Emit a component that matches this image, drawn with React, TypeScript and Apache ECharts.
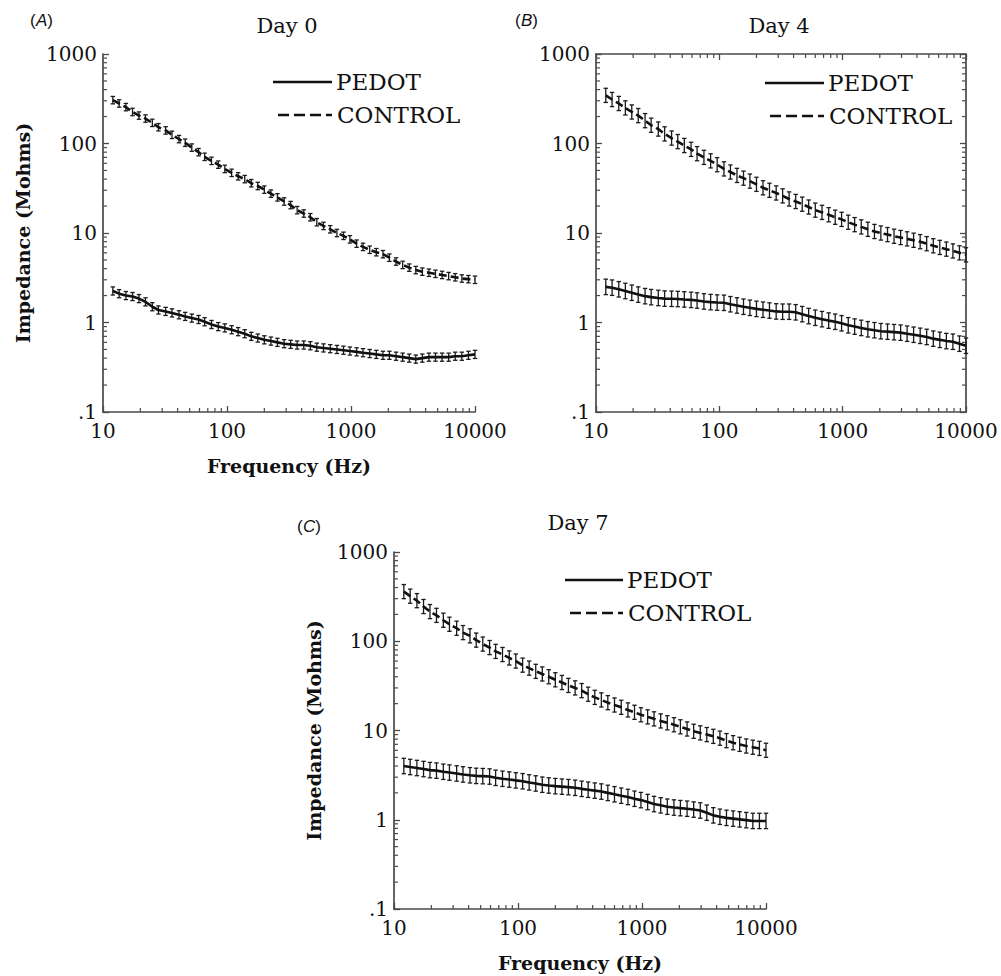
import React, { useEffect, useRef } from 'react';
import * as echarts from 'echarts';

// Frequencies (Hz)
const freq = [12, 13.5, 15.3, 17.3, 19.5, 22, 25, 28, 32, 36, 41, 46, 52, 59, 66, 75, 85, 96, 109, 123, 139, 157, 177, 200, 226, 255, 289, 326, 368, 416, 470, 530, 600, 680, 770, 870, 980, 1110, 1250, 1415, 1600, 1810, 2040, 2310, 2610, 2950, 3330, 3760, 4250, 4800, 5430, 6130, 6930, 7830, 8850, 10000];

// Impedance (Mohms)
const day0Control = [305, 280, 255, 225, 205, 190, 170, 152, 140, 125, 112, 102, 90, 80, 71, 64, 58, 52, 47, 43, 40, 36, 33.5, 30.5, 27.5, 25, 22.5, 20.5, 18, 16.5, 15, 13.2, 12, 11, 10, 9.3, 8.5, 7.6, 7.0, 6.5, 6.1, 5.8, 5.3, 4.8, 4.4, 4.1, 3.85, 3.7, 3.6, 3.5, 3.4, 3.3, 3.2, 3.1, 3.05, 3.0];
const day0Pedot = [2.25, 2.1, 2.0, 1.95, 1.85, 1.7, 1.5, 1.38, 1.33, 1.28, 1.22, 1.17, 1.12, 1.08, 1.02, 0.95, 0.9, 0.87, 0.83, 0.79, 0.75, 0.70, 0.67, 0.64, 0.62, 0.60, 0.58, 0.57, 0.56, 0.56, 0.55, 0.53, 0.52, 0.51, 0.50, 0.49, 0.48, 0.47, 0.46, 0.45, 0.44, 0.43, 0.43, 0.42, 0.41, 0.40, 0.39, 0.40, 0.41, 0.41, 0.41, 0.41, 0.42, 0.42, 0.43, 0.44];
const day4Control = [345, 310, 280, 250, 225, 205, 180, 160, 145, 128, 115, 105, 95, 86, 77, 70, 64, 58, 52, 48, 44, 41, 38, 35, 32, 30, 28, 26, 24, 22.5, 21, 19.5, 18, 17, 16, 15, 14.2, 13.2, 12.4, 11.7, 11, 10.4, 10, 9.6, 9.2, 8.9, 8.6, 8.3, 8.0, 7.6, 7.2, 6.9, 6.6, 6.3, 6.0, 5.7];
const day4Pedot = [2.5, 2.45, 2.35, 2.25, 2.15, 2.05, 1.97, 1.92, 1.88, 1.85, 1.84, 1.83, 1.81, 1.79, 1.76, 1.72, 1.69, 1.67, 1.66, 1.60, 1.55, 1.50, 1.46, 1.42, 1.39, 1.36, 1.33, 1.32, 1.32, 1.30, 1.24, 1.18, 1.13, 1.09, 1.05, 1.02, 0.98, 0.93, 0.90, 0.87, 0.84, 0.82, 0.80, 0.79, 0.78, 0.77, 0.75, 0.73, 0.71, 0.69, 0.66, 0.64, 0.62, 0.61, 0.58, 0.55];
const day7Control = [360, 320, 285, 245, 215, 195, 172, 155, 140, 125, 115, 103, 93, 85, 77, 71, 65, 60, 54, 50, 46, 43, 40, 37, 34.5, 32, 30, 28, 25.5, 23.5, 22, 20.5, 19.3, 18.2, 17, 16, 15, 14.2, 13.5, 12.8, 12.2, 11.6, 11, 10.4, 9.8, 9.4, 9.0, 8.6, 8.2, 7.7, 7.3, 7.0, 6.7, 6.5, 6.3, 6.0];
const day7Pedot = [4.0, 3.9, 3.8, 3.7, 3.6, 3.55, 3.45, 3.38, 3.3, 3.22, 3.15, 3.1, 3.08, 3.05, 2.95, 2.88, 2.82, 2.76, 2.7, 2.62, 2.55, 2.47, 2.42, 2.38, 2.35, 2.32, 2.28, 2.22, 2.17, 2.12, 2.07, 2.0, 1.93, 1.86, 1.80, 1.72, 1.66, 1.58, 1.50, 1.45, 1.40, 1.37, 1.35, 1.33, 1.30, 1.27, 1.2, 1.12, 1.08, 1.05, 1.03, 1.01, 0.99, 0.97, 0.97, 0.97];

// Error-bar factors (multiplicative, per panel: Day 0, Day 4, Day 7)
const pedotErr = [1.11, 1.22, 1.22];
const controlErr = [1.1, 1.2, 1.2];

// Tick values
const xMinorTicks = [20, 30, 40, 50, 60, 70, 80, 90, 200, 300, 400, 500, 600, 700, 800, 900, 2000, 3000, 4000, 5000, 6000, 7000, 8000, 9000];
const yMinorTicks = [0.2, 0.3, 0.4, 0.5, 0.6, 0.7, 0.8, 0.9, 2, 3, 4, 5, 6, 7, 8, 9, 20, 30, 40, 50, 60, 70, 80, 90, 200, 300, 400, 500, 600, 700, 800, 900];

const panelTitles = ['Day 0', 'Day 4', 'Day 7'];
const panelLetters = ['A', 'B', 'C'];
const legendNames = ['PEDOT', 'CONTROL'];

const SERIF = '"DejaVu Serif", serif';
const SANS = '"Liberation Sans", Arial, sans-serif';
const AXIS_COLOR = '#4a4a4a';
const INK = '#111';
const TEXT = '#111';

const grids = [
  { left: 103, top: 54, width: 372, height: 358 },
  { left: 596, top: 54, width: 370, height: 358 },
  { left: 394, top: 552, width: 372, height: 357 },
];

const errRender = (params: any, api: any) => {
  const x = api.value(0);
  const lo = api.coord([x, api.value(1)]);
  const hi = api.coord([x, api.value(2)]);
  const c = 2.2;
  const st = { stroke: '#1a1a1a', lineWidth: 1.3 };
  return {
    type: 'group',
    children: [
      { type: 'line', shape: { x1: lo[0], y1: lo[1], x2: hi[0], y2: hi[1] }, style: st },
      { type: 'line', shape: { x1: lo[0] - c, y1: lo[1], x2: lo[0] + c, y2: lo[1] }, style: st },
      { type: 'line', shape: { x1: hi[0] - c, y1: hi[1], x2: hi[0] + c, y2: hi[1] }, style: st },
    ],
  };
};

const tickRender = (side: string, len: number) => (params: any, api: any) => {
  let p: number[];
  let x2: number, y2: number;
  if (side === 'bottom') {
    p = api.coord([api.value(0), 0.1]);
    x2 = p[0]; y2 = p[1] - len;
  } else if (side === 'top') {
    p = api.coord([api.value(0), 1000]);
    x2 = p[0]; y2 = p[1] + len;
  } else if (side === 'left') {
    p = api.coord([10, api.value(1)]);
    x2 = p[0] + len; y2 = p[1];
  } else {
    p = api.coord([10000, api.value(1)]);
    x2 = p[0] - len; y2 = p[1];
  }
  return { type: 'line', shape: { x1: p[0], y1: p[1], x2, y2 }, style: { stroke: AXIS_COLOR, lineWidth: 1.2 } };
};

const yLabelFmt = (v: number) => (v < 0.5 ? '.1' : String(Math.round(v)));
const xLabelFmt = (v: number) => String(Math.round(v));

function buildOption() {
  const xAxis: any[] = [];
  const yAxis: any[] = [];
  const series: any[] = [];
  const graphic: any[] = [];
  const data = [
    [day0Pedot, day0Control],
    [day4Pedot, day4Control],
    [day7Pedot, day7Control],
  ];

  for (let g = 0; g < 3; g++) {
    const hasTitles = g !== 1;
    xAxis.push({
      type: 'log', logBase: 10, gridIndex: g, min: 10, max: 10000,
      axisLine: { show: true, lineStyle: { color: AXIS_COLOR, width: 1.7 } },
      axisTick: { show: true, inside: true, length: 6, lineStyle: { color: AXIS_COLOR, width: 1.3 } },
      minorTick: { show: false }, splitLine: { show: false },
      axisLabel: { color: TEXT, fontFamily: SERIF, fontSize: 20, margin: 9, formatter: xLabelFmt, showMinLabel: true, showMaxLabel: true },
      name: hasTitles ? 'Frequency (Hz)' : '',
      nameLocation: 'middle', nameGap: 44,
      nameTextStyle: { color: TEXT, fontFamily: SERIF, fontWeight: 'bold', fontSize: 19 },
    });
    yAxis.push({
      type: 'log', logBase: 10, gridIndex: g, min: 0.1, max: 1000,
      axisLine: { show: true, lineStyle: { color: AXIS_COLOR, width: 1.7 } },
      axisTick: { show: true, inside: true, length: 6, lineStyle: { color: AXIS_COLOR, width: 1.3 } },
      minorTick: { show: false }, splitLine: { show: false },
      axisLabel: { color: TEXT, fontFamily: SERIF, fontSize: 20, margin: 6, formatter: yLabelFmt, showMinLabel: true, showMaxLabel: true },
      name: hasTitles ? 'Impedance (Mohms)' : '',
      nameLocation: 'middle', nameGap: 71, nameRotate: 90,
      nameTextStyle: { color: TEXT, fontFamily: SERIF, fontWeight: 'bold', fontSize: 19 },
    });
  }
  // Box for Day 4 panel (top and right axes)
  xAxis.push({
    type: 'log', logBase: 10, gridIndex: 1, min: 10, max: 10000, position: 'top',
    axisLine: { show: true, lineStyle: { color: AXIS_COLOR, width: 1.7 } },
    axisTick: { show: true, inside: true, length: 6, lineStyle: { color: AXIS_COLOR, width: 1.3 } },
    axisLabel: { show: false }, splitLine: { show: false },
  });
  yAxis.push({
    type: 'log', logBase: 10, gridIndex: 1, min: 0.1, max: 1000, position: 'right',
    axisLine: { show: true, lineStyle: { color: AXIS_COLOR, width: 1.7 } },
    axisTick: { show: true, inside: true, length: 6, lineStyle: { color: AXIS_COLOR, width: 1.3 } },
    axisLabel: { show: false }, splitLine: { show: false },
  });

  for (let g = 0; g < 3; g++) {
    const sides = g === 1 ? ['bottom', 'left', 'top', 'right'] : ['bottom', 'left'];
    sides.forEach((side) => {
      const isX = side === 'bottom' || side === 'top';
      series.push({
        type: 'custom', xAxisIndex: g, yAxisIndex: g, silent: true, clip: false, z: 1,
        data: isX ? xMinorTicks.map((v) => [v, 1]) : yMinorTicks.map((v) => [10, v]),
        renderItem: tickRender(side, 4),
      });
    });
    const [pedot, control] = data[g];
    series.push({
      type: 'custom', name: 'PEDOT err', xAxisIndex: g, yAxisIndex: g, silent: true, z: 2,
      data: freq.map((f, i) => [f, pedot[i] / pedotErr[g], pedot[i] * pedotErr[g]]),
      encode: { x: 0, y: [1, 2] },
      renderItem: errRender,
    });
    series.push({
      type: 'custom', name: 'CONTROL err', xAxisIndex: g, yAxisIndex: g, silent: true, z: 2,
      data: freq.map((f, i) => [f, control[i] / controlErr[g], control[i] * controlErr[g]]),
      encode: { x: 0, y: [1, 2] },
      renderItem: errRender,
    });
    series.push({
      type: 'line', name: 'PEDOT', xAxisIndex: g, yAxisIndex: g, z: 3,
      data: freq.map((f, i) => [f, pedot[i]]),
      symbol: 'none', showSymbol: false,
      lineStyle: { color: INK, width: 2.6, type: 'solid' },
    });
    series.push({
      type: 'line', name: 'CONTROL', xAxisIndex: g, yAxisIndex: g, z: 3,
      data: freq.map((f, i) => [f, control[i]]),
      symbol: 'none', showSymbol: false,
      lineStyle: { color: INK, width: 2.6, type: [8, 4] },
    });
  }

  // Titles, panel letters, legends
  const titlePos = [[287, 26], [779, 26], [578, 523]];
  const letterPos = [[30, 20], [515, 20], [297, 526]];
  const letterW = [11.3, 11.3, 12.3];
  const legendPos = [[273, 82, 336], [765, 83, 828], [565, 580, 627]];
  for (let g = 0; g < 3; g++) {
    graphic.push({
      type: 'text', x: titlePos[g][0], y: titlePos[g][1],
      style: { text: panelTitles[g], fill: TEXT, font: `21px ${SERIF}`, textAlign: 'center', textVerticalAlign: 'middle' },
    });
    const [px, py] = letterPos[g];
    graphic.push({
      type: 'text', x: px, y: py,
      style: { text: '(', fill: TEXT, font: `17px ${SANS}`, textVerticalAlign: 'middle' },
    });
    graphic.push({
      type: 'text', x: px + 6, y: py,
      style: { text: panelLetters[g], fill: TEXT, font: `italic 17px ${SANS}`, textVerticalAlign: 'middle' },
    });
    graphic.push({
      type: 'text', x: px + 6 + letterW[g], y: py,
      style: { text: ')', fill: TEXT, font: `17px ${SANS}`, textVerticalAlign: 'middle' },
    });
    const [lx, ly, tx] = legendPos[g];
    graphic.push({
      type: 'line', shape: { x1: lx, y1: ly, x2: tx - 4, y2: ly },
      style: { stroke: INK, lineWidth: 2.4 },
    });
    graphic.push({
      type: 'text', x: tx, y: ly,
      style: { text: legendNames[0], fill: TEXT, font: `23px ${SERIF}`, textVerticalAlign: 'middle' },
    });
    graphic.push({
      type: 'line', shape: { x1: lx + 5, y1: ly + 33, x2: tx - 4, y2: ly + 33 },
      style: { stroke: INK, lineWidth: 2.4, lineDash: [11, 5] },
    });
    graphic.push({
      type: 'text', x: tx + 1, y: ly + 33,
      style: { text: legendNames[1], fill: TEXT, font: `23px ${SERIF}`, textVerticalAlign: 'middle' },
    });
  }

  return {
    animation: false,
    backgroundColor: '#fff',
    grid: grids.map((gr) => ({ ...gr, containLabel: false })),
    xAxis, yAxis, series, graphic,
  };
}

export default function App() {
  const ref = useRef<HTMLDivElement>(null);
  useEffect(() => {
    if (!ref.current) return;
    const chart = echarts.init(ref.current, undefined, { renderer: 'svg' });
    chart.setOption(buildOption() as any);
    return () => chart.dispose();
  }, []);
  return (
    <div
      ref={ref}
      style={{ position: 'fixed', left: 0, top: 0, width: 1001, height: 976, background: '#fff' }}
    />
  );
}
